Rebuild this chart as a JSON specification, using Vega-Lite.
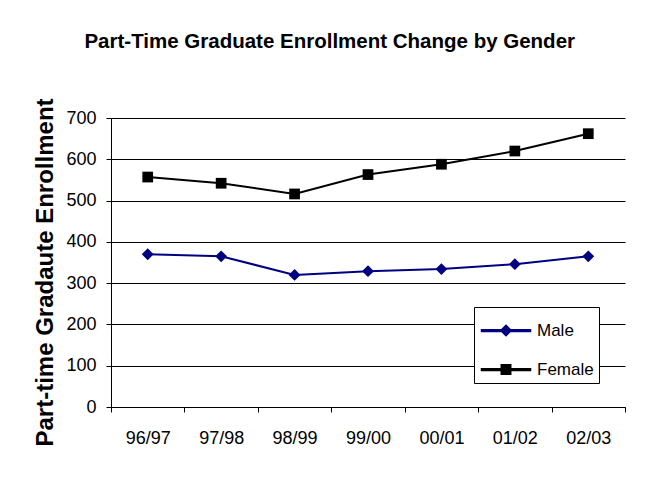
{
  "$schema": "https://vega.github.io/schema/vega-lite/v6.json",
  "width": 514,
  "height": 289,
  "autosize": {"type": "none"},
  "padding": {"left": 111, "top": 118, "right": 27, "bottom": 78},
  "background": "white",
  "config": {
    "font": "Liberation Sans",
    "view": {"stroke": null}
  },
  "title": {
    "text": "Part-Time Graduate Enrollment Change by Gender",
    "fontSize": 20.5,
    "fontWeight": "bold",
    "font": "Liberation Sans",
    "color": "#000000",
    "anchor": "middle",
    "frame": "bounds",
    "baseline": "alphabetic",
    "offset": 29
  },
  "data": {
    "values": [
      {"year": "96/97", "gender": "Male", "value": 370},
      {"year": "97/98", "gender": "Male", "value": 365},
      {"year": "98/99", "gender": "Male", "value": 320},
      {"year": "99/00", "gender": "Male", "value": 329},
      {"year": "00/01", "gender": "Male", "value": 334},
      {"year": "01/02", "gender": "Male", "value": 346},
      {"year": "02/03", "gender": "Male", "value": 365},
      {"year": "96/97", "gender": "Female", "value": 557},
      {"year": "97/98", "gender": "Female", "value": 542},
      {"year": "98/99", "gender": "Female", "value": 516},
      {"year": "99/00", "gender": "Female", "value": 563},
      {"year": "00/01", "gender": "Female", "value": 588},
      {"year": "01/02", "gender": "Female", "value": 620},
      {"year": "02/03", "gender": "Female", "value": 662}
    ]
  },
  "encoding": {
    "x": {
      "field": "year",
      "type": "ordinal",
      "sort": null,
      "scale": {"type": "band", "paddingInner": 0, "paddingOuter": 0},
      "axis": {
        "title": null,
        "labelAngle": 0,
        "labelFontSize": 18,
        "labelColor": "#000000",
        "labelPadding": 17,
        "tickBand": "extent",
        "tickSize": 5,
        "tickColor": "#000000",
        "domainColor": "#000000",
        "grid": false
      }
    },
    "y": {
      "field": "value",
      "type": "quantitative",
      "scale": {"domain": [0, 700], "nice": false, "zero": true},
      "axis": {
        "title": "Part-time Gradaute Enrollment",
        "titleFontSize": 24,
        "titleFontWeight": "bold",
        "titleColor": "#000000",
        "titlePadding": 8,
        "titleY": 154,
        "values": [0, 100, 200, 300, 400, 500, 600, 700],
        "labelFontSize": 18,
        "labelColor": "#000000",
        "labelPadding": 10,
        "tickSize": 5,
        "tickColor": "#000000",
        "domainColor": "#000000",
        "grid": true,
        "gridColor": "#000000",
        "gridWidth": 1
      }
    },
    "color": {
      "field": "gender",
      "type": "nominal",
      "scale": {"domain": ["Male", "Female"], "range": ["#000080", "#000000"]},
      "legend": {
        "title": null,
        "orient": "none",
        "legendX": 363,
        "legendY": 189,
        "padding": 5,
        "symbolSize": 1225,
        "symbolOffset": 8.5,
        "labelOffset": 12.5,
        "rowPadding": 12,
        "labelFontSize": 17,
        "labelColor": "#000000",
        "strokeColor": "#000000",
        "fillColor": "#ffffff"
      }
    }
  },
  "layer": [
    {
      "mark": {"type": "line", "strokeWidth": 2}
    },
    {
      "transform": [{"filter": "datum.gender === 'Male'"}],
      "mark": {"type": "point", "filled": true, "opacity": 1, "size": 140, "shape": "diamond"}
    },
    {
      "transform": [{"filter": "datum.gender === 'Female'"}],
      "mark": {"type": "point", "filled": true, "opacity": 1, "size": 115, "shape": "square"}
    },
    {
      "mark": {"type": "point", "filled": true, "size": 0},
      "encoding": {
        "shape": {
          "field": "gender",
          "type": "nominal",
          "scale": {
            "domain": ["Male", "Female"],
            "range": [
              "M-1.4,-0.05H1.4V0.05H-1.4Z M0,-0.3L0.3,0L0,0.3L-0.3,0Z",
              "M-1.4,-0.05H1.4V0.05H-1.4Z M-0.27,-0.27H0.27V0.27H-0.27Z"
            ]
          },
          "legend": null
        }
      }
    }
  ]
}
